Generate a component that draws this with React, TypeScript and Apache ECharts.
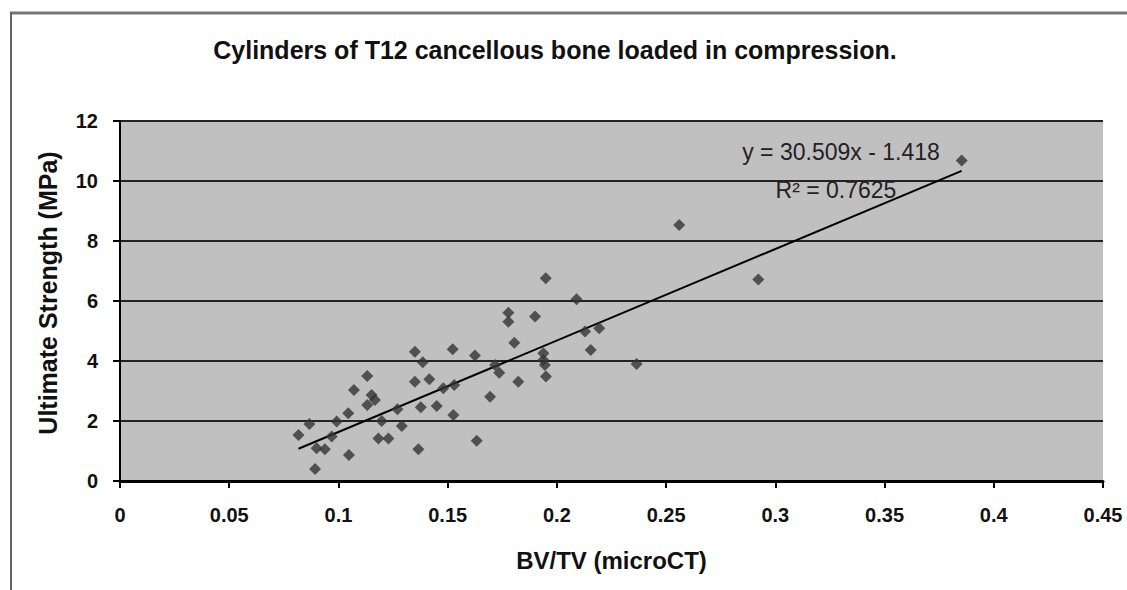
import React, { useEffect, useRef } from "react";
import * as echarts from "echarts";

const TITLE = "Cylinders of T12 cancellous bone loaded in compression.";
const X_NAME = "BV/TV (microCT)";
const Y_NAME = "Ultimate Strength (MPa)";
const EQUATION = "y = 30.509x - 1.418";
const R2_TEXT = "R² = 0.7625";
const SLOPE = 30.509;
const INTERCEPT = -1.418;

const bvtv = [
  0.0817, 0.0867, 0.0893, 0.09, 0.0938, 0.0969, 0.0992, 0.1045, 0.1048, 0.1071,
  0.1132, 0.1152, 0.1167, 0.1132, 0.1198, 0.1183, 0.1229, 0.127, 0.129, 0.135,
  0.1386, 0.135, 0.1416, 0.1377, 0.145, 0.1366, 0.148, 0.1523, 0.1526, 0.1625,
  0.1633, 0.1694, 0.1717, 0.1736, 0.1778, 0.1778, 0.1805, 0.1823, 0.19, 0.1938,
  0.1938, 0.1945, 0.195, 0.1949, 0.209, 0.2129, 0.2155, 0.2194, 0.2365, 0.256,
  0.2922, 0.3853, 0.153,
];
const strength = [
  1.53, 1.9, 0.4, 1.09, 1.06, 1.48, 1.98, 2.26, 0.87, 3.03,
  3.5, 2.87, 2.7, 2.53, 2.0, 1.42, 1.42, 2.39, 1.83, 4.31,
  3.96, 3.31, 3.39, 2.46, 2.5, 1.06, 3.09, 4.39, 2.2, 4.18,
  1.34, 2.81, 3.87, 3.61, 5.61, 5.31, 4.61, 3.31, 5.48, 4.26,
  4.03, 3.87, 3.48, 6.76, 6.06, 4.98, 4.37, 5.09, 3.9, 8.53,
  6.72, 10.68, 3.2,
];

export default function App() {
  const ref = useRef<HTMLDivElement>(null);
  useEffect(() => {
    document.body.style.margin = "0";
    const chart = echarts.init(ref.current!, undefined, { renderer: "svg" });
    const pts = bvtv.map((x, i) => [x, strength[i]]);
    const xmin = Math.min(...bvtv);
    const xmax = Math.max(...bvtv);
    const trend = [
      [xmin, SLOPE * xmin + INTERCEPT],
      [xmax, SLOPE * xmax + INTERCEPT],
    ];
    const font = "'Liberation Sans', Arial, sans-serif";
    chart.setOption({
      animation: false,
      backgroundColor: "#ffffff",
      textStyle: { fontFamily: font },
      grid: { left: 120, right: 24, top: 121, bottom: 109, show: true, backgroundColor: "#c0c0c0", borderWidth: 0 },
      xAxis: {
        type: "value",
        min: 0,
        max: 0.45,
        interval: 0.05,
        name: X_NAME,
        nameLocation: "middle",
        nameGap: 67,
        nameTextStyle: { fontSize: 24, fontWeight: "bold", color: "#111", fontFamily: font, verticalAlign: "top" },
        axisLine: { onZero: false, lineStyle: { color: "#000", width: 3 } },
        axisTick: { show: true, length: 7, lineStyle: { color: "#000", width: 2 } },
        axisLabel: { fontSize: 20, fontWeight: "bold", color: "#111", margin: 24, fontFamily: font, formatter: (v: number) => String(+v.toFixed(2)) },
        splitLine: { show: false },
      },
      yAxis: {
        type: "value",
        min: 0,
        max: 12,
        interval: 2,
        axisLine: { show: true, lineStyle: { color: "#000", width: 2 } },
        axisTick: { show: true, length: 7, lineStyle: { color: "#000", width: 2 } },
        axisLabel: { fontSize: 20, fontWeight: "bold", color: "#111", margin: 22, fontFamily: font },
        splitLine: { show: true, lineStyle: { color: "#222", width: 2 } },
      },
      graphic: [
        { type: "line", shape: { x1: 10, y1: 13, x2: 1127, y2: 13 }, style: { stroke: "#777", lineWidth: 3 } },
        { type: "line", shape: { x1: 11, y1: 12, x2: 11, y2: 590 }, style: { stroke: "#666", lineWidth: 2 } },
        {
          type: "text",
          x: 555,
          y: 50,
          style: { text: TITLE, fontSize: 25, fontWeight: "bold", fill: "#111", fontFamily: font, align: "center", verticalAlign: "middle" },
        },
        {
          type: "text",
          x: 48,
          y: 293,
          rotation: Math.PI / 2,
          style: { text: Y_NAME, fontSize: 25, fontWeight: "bold", fill: "#111", fontFamily: font, align: "center", verticalAlign: "middle" },
        },
        {
          type: "text",
          x: 841,
          y: 152,
          style: { text: EQUATION, fontSize: 23, fill: "#222", fontFamily: font, align: "center", verticalAlign: "middle" },
          z: 100,
        },
        {
          type: "text",
          x: 836,
          y: 190,
          style: { text: R2_TEXT, fontSize: 23, fill: "#222", fontFamily: font, align: "center", verticalAlign: "middle" },
          z: 100,
        },
      ],
      series: [
        {
          type: "line",
          data: trend,
          showSymbol: false,
          symbol: "none",
          lineStyle: { color: "#000", width: 2 },
          z: 3,
        },
        {
          type: "scatter",
          data: pts,
          symbol: "diamond",
          symbolSize: 12,
          itemStyle: { color: "#333" },
          z: 4,
        },
      ],
    });
    return () => chart.dispose();
  }, []);
  return <div ref={ref} style={{ width: 1127, height: 590 }} />;
}
